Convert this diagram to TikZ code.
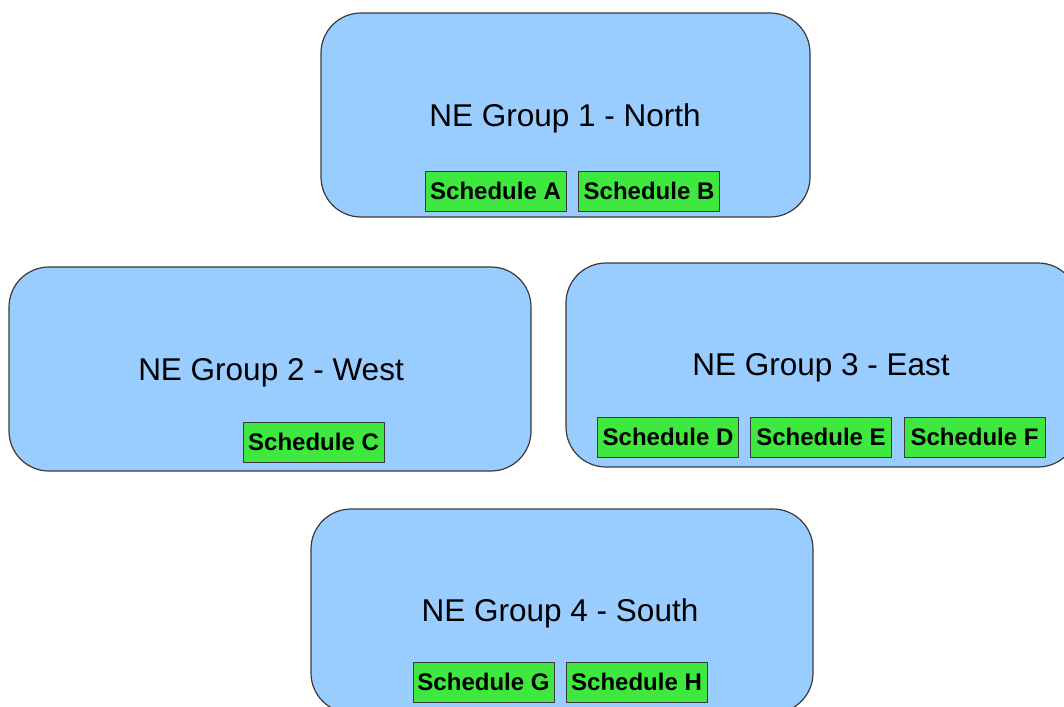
\documentclass[tikz,border=0pt]{standalone}
\usepackage{fontspec}
\setmainfont{Liberation Sans}
\definecolor{grpblue}{HTML}{99CCFF}
\definecolor{schedgreen}{HTML}{3EE83E}
\definecolor{edgegray}{HTML}{3A3A3A}
\begin{document}
\begin{tikzpicture}[x=1pt,y=-1pt,
  groupbox/.style={draw=edgegray, fill=grpblue, line width=1.2pt, rounded corners=40pt},
  grouptitle/.style={font=\fontsize{31.5}{36}\selectfont, inner sep=0pt, anchor=base},
  schedbox/.style={draw=edgegray, fill=schedgreen, line width=1pt, minimum width=141pt, minimum height=40pt, inner sep=0pt, font=\fontsize{24}{28}\selectfont\bfseries}
]
\useasboundingbox (0,0) rectangle (1064,706);
\begin{scope}
\clip (0,0) rectangle (1064,706);
% group boxes
\node[groupbox, minimum width=489pt, minimum height=204pt] (g1) at (565.5,115) {};
\node[groupbox, minimum width=522pt, minimum height=204pt] (g2) at (270,369) {};
\node[groupbox, minimum width=512pt, minimum height=204pt] (g3) at (822,365) {};
\node[groupbox, minimum width=502pt, minimum height=204pt] (g4) at (562,611) {};
\end{scope}
% titles
\node[grouptitle] (t1) at (565,126) {NE Group 1 - North};
\node[grouptitle] (t2) at (271,380) {NE Group 2 - West};
\node[grouptitle] (t3) at (821,375) {NE Group 3 - East};
\node[grouptitle] (t4) at (560,621) {NE Group 4 - South};
% schedules
\node[schedbox] (sa) at (495.5,191) {Schedule A};
\node[schedbox] (sb) at (649,191) {Schedule B};
\node[schedbox] (sc) at (313.5,442) {Schedule C};
\node[schedbox] (sd) at (668,437) {Schedule D};
\node[schedbox] (se) at (821,437) {Schedule E};
\node[schedbox] (sf) at (974.5,437) {Schedule F};
\node[schedbox] (sg) at (483.5,682) {Schedule G};
\node[schedbox] (sh) at (636.5,682) {Schedule H};
\end{tikzpicture}
\end{document}
